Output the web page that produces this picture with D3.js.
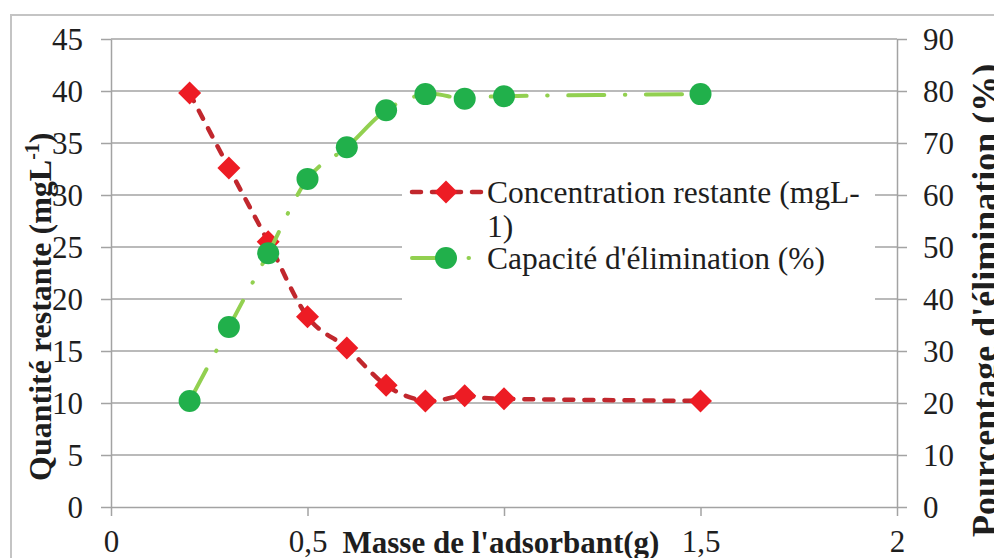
<!DOCTYPE html>
<html>
<head>
<meta charset="utf-8">
<script src="https://cdn.jsdelivr.net/npm/d3@7"></script>
<style>
  html, body { margin: 0; padding: 0; background: #fff; }
  svg { display: block; }
  svg text { font-family: "Liberation Serif", "Times New Roman", Times, serif; }
</style>
</head>
<body>
<svg id="chart" width="994" height="558"></svg>
<script>
// ---------------------------------------------------------------------------
// Data
// ---------------------------------------------------------------------------
const masse         = [0.2, 0.3, 0.4, 0.5, 0.6, 0.7, 0.8, 0.9, 1.0, 1.5];
const concentration = [39.8, 32.6, 25.5, 18.3, 15.3, 11.7, 10.2, 10.7, 10.4, 10.2];
const capacite      = [20.4, 34.6, 48.8, 63.1, 69.2, 76.3, 79.4, 78.5, 79.0, 79.4];

const xTicks      = [0, 0.5, 1, 1.5, 2];
// the "1" label is hidden under the axis title in the reference
const xTickLabels = ['0', '0,5', '', '1,5', '2'];
const yLeftTicks  = [0, 5, 10, 15, 20, 25, 30, 35, 40, 45];
const yRightTicks = [0, 10, 20, 30, 40, 50, 60, 70, 80, 90];

const seriesNames = ['Concentration restante (mgL-', '1)', "Capacité d'élimination (%)"];

// ---------------------------------------------------------------------------
// Layout
// ---------------------------------------------------------------------------
const W = 994, H = 558;
const plot = { left: 111, right: 897, top: 39, bottom: 507 };
const FONT = '"Liberation Serif", "Times New Roman", Times, serif';
const GRID = '#a3a3a3';
const INK = '#1e1e1e';
const RED_LINE = '#c1272d', RED_MARK = '#ed1c24';
const GREEN_LINE = '#92d050', GREEN_MARK = '#21b04b';

const svg = d3.select('#chart');
svg.append('rect').attr('width', W).attr('height', H).attr('fill', '#fff');

// outer chart border (runs off the right and bottom edges)
svg.append('rect')
  .attr('x', 11).attr('y', 15).attr('width', W + 20).attr('height', H + 20)
  .attr('fill', 'none').attr('stroke', '#c4c4c4').attr('stroke-width', 2);

const x  = d3.scaleLinear().domain([0, 2]).range([plot.left, plot.right]);
const yL = d3.scaleLinear().domain([0, 45]).range([plot.bottom, plot.top]);
const yR = d3.scaleLinear().domain([0, 90]).range([plot.bottom, plot.top]);

function styleAxis(sel) {
  sel.attr('font-family', FONT).attr('font-size', 31);
  sel.select('.domain').attr('stroke', GRID).attr('stroke-width', 1.5);
  sel.selectAll('.tick line').attr('stroke', GRID).attr('stroke-width', 1.5);
  sel.selectAll('.tick text').attr('fill', INK);
}

// horizontal gridlines
svg.append('g')
  .selectAll('line')
  .data(yLeftTicks.filter(d => d > 0))
  .join('line')
  .attr('x1', plot.left).attr('x2', plot.right)
  .attr('y1', d => yL(d)).attr('y2', d => yL(d))
  .attr('stroke', GRID).attr('stroke-width', 1.5);

// left axis
svg.append('g')
  .attr('transform', `translate(${plot.left},0)`)
  .call(d3.axisLeft(yL).tickValues(yLeftTicks).tickSize(10).tickPadding(18).tickSizeOuter(0))
  .call(styleAxis)
  .call(g => g.selectAll('.tick text').attr('dy', '0.34em'));

// right axis
svg.append('g')
  .attr('transform', `translate(${plot.right},0)`)
  .call(d3.axisRight(yR).tickValues(yRightTicks).tickSize(10).tickPadding(16).tickSizeOuter(0))
  .call(styleAxis)
  .call(g => g.selectAll('.tick text').attr('dy', '0.34em'));

// bottom axis
svg.append('g')
  .attr('transform', `translate(0,${plot.bottom})`)
  .call(d3.axisBottom(x).tickValues(xTicks).tickSize(9).tickPadding(16).tickSizeOuter(0)
    .tickFormat((d, i) => xTickLabels[i]))
  .call(styleAxis)
  .call(g => g.selectAll('.tick text').attr('y', 45).attr('dy', 0));

// ---------------------------------------------------------------------------
// Legend background (white box hiding gridlines)
// ---------------------------------------------------------------------------
const legend = { x: 402, y: 163, w: 473, h: 142 };
svg.append('rect')
  .attr('x', legend.x).attr('y', legend.y).attr('width', legend.w).attr('height', legend.h)
  .attr('fill', '#fff');

// ---------------------------------------------------------------------------
// Series
// ---------------------------------------------------------------------------
const smooth = d3.curveCardinal.tension(0);
const RED_DASH = '9,11';
const GREEN_DASH = '36,20.5,0.5,20.5';

function diamondPath(s) {
  return `M0,${-s}L${s},0L0,${s}L${-s},0Z`;
}

const redLine = d3.line().x((d, i) => x(masse[i])).y(d => yL(d)).curve(smooth);
svg.append('path')
  .attr('d', redLine(concentration))
  .attr('fill', 'none').attr('stroke', RED_LINE).attr('stroke-width', 4.5)
  .attr('stroke-dasharray', RED_DASH).attr('stroke-linecap', 'round');

svg.append('g').selectAll('path')
  .data(concentration)
  .join('path')
  .attr('transform', (d, i) => `translate(${x(masse[i])},${yL(d)})`)
  .attr('d', diamondPath(11.5))
  .attr('fill', RED_MARK);

const greenLine = d3.line().x((d, i) => x(masse[i])).y(d => yR(d)).curve(smooth);
svg.append('path')
  .attr('d', greenLine(capacite))
  .attr('fill', 'none').attr('stroke', GREEN_LINE).attr('stroke-width', 4)
  .attr('stroke-dasharray', GREEN_DASH).attr('stroke-linecap', 'round');

svg.append('g').selectAll('circle')
  .data(capacite)
  .join('circle')
  .attr('cx', (d, i) => x(masse[i])).attr('cy', d => yR(d))
  .attr('r', 11)
  .attr('fill', GREEN_MARK);

// ---------------------------------------------------------------------------
// Legend entries
// ---------------------------------------------------------------------------
const lg = svg.append('g');
lg.append('line')
  .attr('x1', 412).attr('x2', 481).attr('y1', 192).attr('y2', 192)
  .attr('stroke', RED_LINE).attr('stroke-width', 4.5)
  .attr('stroke-dasharray', RED_DASH).attr('stroke-linecap', 'round');
lg.append('path')
  .attr('transform', 'translate(446,192)')
  .attr('d', diamondPath(11.5)).attr('fill', RED_MARK);
lg.append('line')
  .attr('x1', 412).attr('x2', 481).attr('y1', 258).attr('y2', 258)
  .attr('stroke', GREEN_LINE).attr('stroke-width', 4)
  .attr('stroke-dasharray', GREEN_DASH).attr('stroke-linecap', 'round');
lg.append('circle')
  .attr('cx', 446).attr('cy', 258).attr('r', 11).attr('fill', GREEN_MARK);

lg.selectAll('text')
  .data(seriesNames)
  .join('text')
  .attr('x', 487)
  .attr('y', (d, i) => [203, 237, 269][i])
  .attr('fill', INK)
  .attr('font-family', FONT).attr('font-size', 31.5)
  .text(d => d);

// ---------------------------------------------------------------------------
// Axis titles
// ---------------------------------------------------------------------------
svg.append('text')
  .attr('x', 501).attr('y', 553)
  .attr('text-anchor', 'middle')
  .attr('fill', INK)
  .attr('font-family', FONT).attr('font-size', 31).attr('font-weight', 'bold')
  .text("Masse de l'adsorbant(g)");

const leftTitle = svg.append('text')
  .attr('transform', 'translate(51,481) rotate(-90)')
  .attr('fill', INK)
  .attr('font-family', FONT).attr('font-size', 32).attr('font-weight', 'bold');
leftTitle.append('tspan').text('Quantité restante (mgL');
leftTitle.append('tspan').attr('dy', -12).attr('font-size', 20).text('-1');
leftTitle.append('tspan').attr('dy', 12).text(')');

// right title runs past the right edge of the picture, as in the reference
svg.append('text')
  .attr('transform', 'translate(997,537) rotate(-90)')
  .attr('fill', INK)
  .attr('font-family', FONT).attr('font-size', 36).attr('font-weight', 'bold')
  .text("Pourcentage d'élimination (%)");
</script>
</body>
</html>
